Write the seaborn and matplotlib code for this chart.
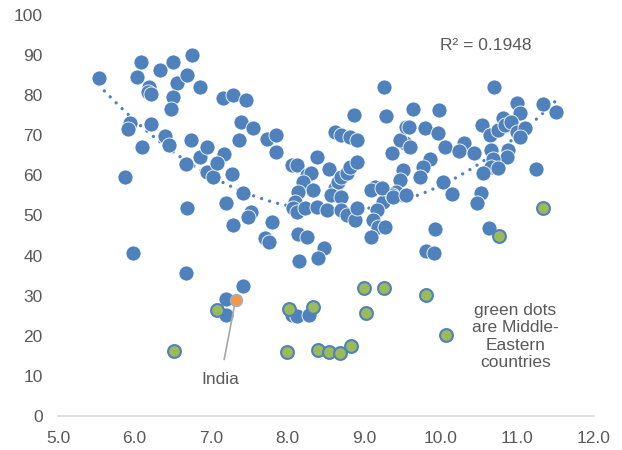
"""
plot.py — scatter of the two indicators with a 2nd order trend line,
          Middle-Eastern countries in green, India in orange
"""

import numpy as np
import pandas as pd
import matplotlib
matplotlib.use('Agg')
import matplotlib.pyplot as plt
import seaborn as sns


# ─────────────────────────────────────────────
# 1. Data
# ─────────────────────────────────────────────
blue_x = [5.53, 6.08, 6.03, 6.33, 6.50, 6.75, 6.19, 6.17, 6.21, 6.56,
          6.68, 6.50, 6.47, 6.86, 7.16, 7.29, 7.45, 5.94, 5.92, 6.22,
          6.10, 6.40, 6.45, 6.74, 5.88, 6.67, 6.85, 6.94, 7.17, 6.94,
          7.03, 7.07, 7.27, 7.39, 7.55, 7.36, 7.73, 7.42, 7.20, 7.52,
          7.48, 6.69, 7.29, 7.80, 7.85, 7.85, 8.05, 8.12, 8.38, 8.62,
          8.70, 8.81, 8.90, 8.54, 8.25, 8.31, 8.20, 8.33, 8.14, 8.09,
          8.07, 8.12, 8.22, 8.38, 8.51, 8.62, 8.66, 8.70, 8.77, 8.81,
          8.90, 8.57, 8.70, 8.70, 8.77, 8.88, 8.90, 7.70, 7.75, 8.14,
          8.25, 8.47, 8.40, 8.15, 9.14, 9.09, 9.25, 9.16, 9.12, 9.18,
          9.27, 9.09, 9.36, 9.51, 9.47, 9.42, 9.36, 9.53, 9.47, 9.55,
          8.86, 9.26, 9.29, 9.63, 9.97, 9.59, 9.79, 9.96, 10.05, 9.60,
          9.86, 9.77, 9.73, 10.03, 9.23, 9.38, 9.55, 10.70, 10.99, 11.03,
          11.34, 11.50, 10.30, 10.24, 10.43, 10.54, 10.64, 10.75, 10.81, 10.84,
          10.92, 10.99, 11.10, 11.03, 10.66, 10.88, 10.86, 10.68, 10.66, 10.75,
          10.55, 11.24, 10.15, 10.53, 10.47, 9.93, 10.63, 9.81, 9.91, 5.98,
          6.67, 7.42, 7.20, 7.19, 8.05, 8.12, 8.28]
blue_y = [84.2, 88.4, 84.6, 86.3, 88.2, 90.0, 82.1, 80.9, 80.2, 83.0,
          85.0, 79.6, 76.6, 82.0, 79.2, 80.0, 78.8, 73.1, 71.5, 72.7,
          67.2, 69.8, 67.6, 68.8, 59.5, 62.8, 64.7, 67.2, 65.3, 60.9,
          59.7, 63.0, 60.3, 73.4, 71.7, 68.8, 69.0, 55.5, 53.2, 50.9,
          49.7, 51.8, 47.6, 48.5, 70.1, 65.9, 62.6, 62.6, 64.5, 70.9,
          70.1, 69.7, 68.8, 61.5, 60.1, 60.5, 58.4, 56.4, 55.9, 53.4,
          51.8, 50.9, 51.8, 52.2, 51.4, 56.8, 58.4, 59.7, 60.5, 62.2,
          63.4, 55.1, 54.7, 51.4, 50.1, 48.9, 51.8, 44.3, 43.5, 45.5,
          44.7, 42.0, 39.3, 38.7, 57.2, 56.4, 53.4, 51.4, 48.9, 47.2,
          47.2, 44.7, 65.5, 61.3, 58.9, 55.9, 55.1, 68.0, 68.8, 72.1,
          75.1, 82.0, 74.8, 76.6, 76.3, 72.1, 71.9, 70.5, 67.2, 67.2,
          64.2, 62.2, 59.7, 58.4, 56.8, 54.7, 55.1, 82.1, 78.1, 75.6,
          77.7, 75.7, 68.2, 66.0, 65.5, 72.6, 70.1, 71.3, 74.2, 72.6,
          73.4, 70.9, 71.7, 69.7, 66.3, 66.3, 64.7, 64.2, 62.2, 61.8,
          60.5, 61.7, 55.3, 55.7, 53.0, 46.6, 46.8, 41.2, 40.7, 40.6,
          35.7, 32.4, 29.3, 25.2, 25.3, 25.0, 25.3]

green_x = [7.07, 6.51, 8.02, 8.33, 8.99, 9.26, 9.02, 9.80, 10.07, 7.99,
           8.39, 8.54, 8.68, 8.83, 10.76, 11.34]
green_y = [26.4, 16.2, 26.8, 27.3, 31.8, 32.0, 25.8, 30.2, 20.2, 16.0,
           16.5, 16.0, 15.6, 17.5, 44.9, 51.8]

india_x = [7.33]
india_y = [28.9]

r2_label = 'R² = 0.1948'
note_label = 'green dots\nare Middle-\nEastern\ncountries'

x_ticks = [5, 6, 7, 8, 9, 10, 11, 12]
y_ticks = [0, 10, 20, 30, 40, 50, 60, 70, 80, 90, 100]

BLUE = '#4F81BD'
GREEN = '#9BBB59'
ORANGE = '#F79646'
TEXT = '#595959'

df_all = pd.DataFrame({'x': blue_x + green_x + india_x,
                       'y': blue_y + green_y + india_y})


# ─────────────────────────────────────────────
# 2. Figure
# ─────────────────────────────────────────────
sns.set_style('white')
plt.rcParams['font.family'] = ['Liberation Sans', 'DejaVu Sans']

fig = plt.figure(figsize=(6.22, 4.5), dpi=100)
ax = fig.add_axes([58 / 622, 1 - 416 / 450, 536 / 622, 401 / 450])

sns.scatterplot(x=blue_x, y=blue_y, ax=ax, color=BLUE, s=118,
                edgecolor='white', linewidth=0.6, zorder=3)

# polynomial (order 2) trend line over all countries
sns.regplot(data=df_all, x='x', y='y', order=2, ci=None, scatter=False,
            truncate=True, ax=ax,
            line_kws={'color': BLUE, 'lw': 2.4,
                      'linestyle': (0, (0.01, 2.5)),
                      'dash_capstyle': 'round', 'zorder': 2})

sns.scatterplot(x=green_x, y=green_y, ax=ax, color=GREEN, s=85,
                edgecolor=BLUE, linewidth=1.5, zorder=4)
sns.scatterplot(x=india_x, y=india_y, ax=ax, color=ORANGE, s=75,
                edgecolor='#95B3D7', linewidth=1.0, zorder=5)

# annotations
ax.annotate('India', xy=(india_x[0] - 0.02, india_y[0] - 0.8),
            xytext=(7.12, 9.0), ha='center', va='center',
            fontsize=12.5, color=TEXT,
            arrowprops=dict(arrowstyle='-', color='#A6A6A6', lw=1.2,
                            shrinkA=7, shrinkB=0))
ax.text(9.99, 92.5, r2_label, ha='left', va='center',
        fontsize=12.5, color=TEXT)
ax.text(10.97, 19.8, note_label, ha='center', va='center',
        fontsize=12.5, color=TEXT, linespacing=1.2)


# ─────────────────────────────────────────────
# 3. Axes styling
# ─────────────────────────────────────────────
ax.set_xlim(5, 12)
ax.set_ylim(0, 100)
ax.set_xticks(x_ticks)
ax.set_xticklabels([f'{t:.1f}' for t in x_ticks])
ax.set_yticks(y_ticks)
ax.set_yticklabels([str(t) for t in y_ticks])
ax.set_xlabel('')
ax.set_ylabel('')
ax.tick_params(axis='both', length=0, labelsize=12.5, labelcolor=TEXT)
ax.tick_params(axis='x', pad=11)
ax.tick_params(axis='y', pad=11)

for side in ['left', 'top', 'right']:
    ax.spines[side].set_visible(False)
ax.spines['bottom'].set_color('#D9D9D9')
ax.spines['bottom'].set_linewidth(1.2)

fig.savefig('out.png', dpi=100)
